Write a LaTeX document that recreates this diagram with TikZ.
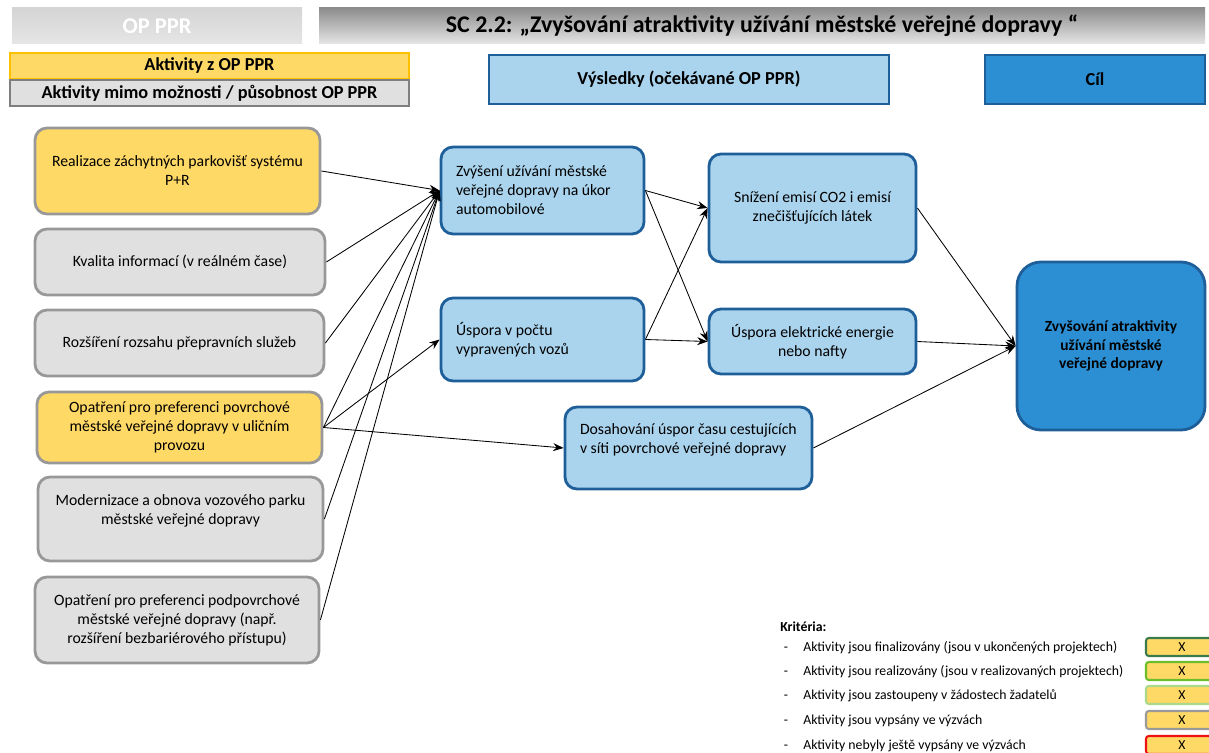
\documentclass[tikz,border=0pt]{standalone}
\usepackage{fontspec}
\setmainfont{Carlito}
\usetikzlibrary{arrows.meta,positioning}
\definecolor{gold}{HTML}{FFD966}
\definecolor{goldline}{HTML}{FFC000}
\definecolor{paleg}{HTML}{E0E0E0}
\definecolor{boxgray}{HTML}{989898}
\definecolor{darkgray0}{HTML}{7F7F7F}
\definecolor{skyfill}{HTML}{AAD4EE}
\definecolor{navyline}{HTML}{1F5F99}
\definecolor{goalfill}{HTML}{2C8FD3}
\definecolor{hdrtop}{HTML}{8C8C8C}
\definecolor{hdrbot}{HTML}{E6E6E6}
\definecolor{kdgreen}{HTML}{3B7A4A}
\definecolor{kgreen}{HTML}{6BBE2A}
\definecolor{klgreen}{HTML}{A9D98A}
\definecolor{kgray}{HTML}{999999}
\definecolor{kred}{HTML}{EE1111}
\tikzset{
  box/.style={draw, rounded corners=.3cm, line width=2pt, align=center, inner sep=2pt, font=\fontsize{11.2}{13.5}\selectfont},
  boxy/.style={box, fill=gold, draw=boxgray},
  boxg/.style={box, fill=paleg, draw=boxgray},
  boxb/.style={box, fill=skyfill, draw=navyline, align=flush left, inner xsep=.375cm},
  boxc/.style={box, fill=skyfill, draw=navyline},
  hdr/.style={inner sep=0pt, top color=hdrtop, bottom color=hdrbot, font=\fontsize{17}{19}\selectfont\bfseries},
  leg/.style={line width=1.6pt, inner sep=0pt, minimum width=9.975cm, minimum height=.65cm, font=\fontsize{13}{15}\selectfont\bfseries},
  colhdr/.style={line width=2pt, draw=navyline, inner sep=0pt, minimum height=1.225cm, font=\fontsize{13}{15}\selectfont\bfseries},
  ar/.style={-{Stealth[length=2.6mm,width=2mm]}, line width=.6pt},
  krit/.style={font=\fontsize{9.8}{11}\selectfont, inner xsep=0pt, text height=1.6ex, text depth=.4ex},
  kbox/.style={krit, fill=gold, line width=1.5pt, rounded corners=2pt, inner sep=0pt, minimum width=1.8cm, minimum height=.45cm},
}
\begin{document}
\begin{tikzpicture}
  \useasboundingbox (0,0) rectangle (30.225,-18.825);
  \node[hdr, top color=hdrbot!80!hdrtop, minimum width=7.25cm, minimum height=.9cm, text=white, font=\fontsize{16}{18}\selectfont\bfseries] (hdrop) at (3.925,-.65) {OP PPR};
  \node[hdr, minimum width=22.15cm, minimum height=.9cm] (hdrsc) at (19.05,-.65) {SC 2.2: „Zvyšování atraktivity užívání městské veřejné dopravy “};
  \node[leg, draw=goldline, fill=gold] (legz) at (5.2375,-1.65) {Aktivity z OP PPR};
  \node[leg, draw=darkgray0, fill=paleg] (legmimo) at (5.2375,-2.325) {Aktivity mimo možnosti / působnost OP PPR};
  \node[colhdr, fill=skyfill, minimum width=10cm] (hdrvys) at (17.225,-1.9875) {Výsledky (očekávané OP PPR)};
  \node[colhdr, fill=goalfill, minimum width=5.5cm] (hdrcil) at (27.375,-1.9875) {Cíl};

  \node[boxy, minimum width=7.125cm, minimum height=2.15cm] (parkr) at (4.4375,-4.275) {Realizace záchytných parkovišť systému\\P+R};
  \node[boxg, minimum width=7.25cm, minimum height=1.65cm] (info) at (4.5,-6.55) {Kvalita informací (v reálném čase)};
  \node[boxg, minimum width=7.225cm, minimum height=1.65cm] (sluzby) at (4.4875,-8.575) {Rozšíření rozsahu přepravních služeb};
  \node[boxy, minimum width=7.125cm, minimum height=1.775cm] (povrch) at (4.4875,-10.6875) {Opatření pro preferenci povrchové\\městské veřejné dopravy v uličním\\provozu};
  \node[boxg, minimum width=7.125cm, minimum height=2.1cm] (vozy) at (4.5125,-12.975) {Modernizace a obnova vozového parku\\městské veřejné dopravy\\\mbox{}};
  \node[boxg, minimum width=7.1cm, minimum height=2.15cm] (podpovrch) at (4.425,-15.5) {Opatření pro preferenci podpovrchové\\městské veřejné dopravy (např.\\rozšíření bezbariérového přístupu)};

  \node[boxb, text width=4.325cm, minimum height=2.175cm] (zvyseni) at (13.5625,-4.7625) {Zvýšení užívání městské\\veřejné dopravy na úkor\\automobilové};
  \node[boxb, text width=4.325cm, minimum height=2.075cm] (uspvoz) at (13.5625,-8.4875) {Úspora v počtu\\vypravených vozů};
  \node[boxb, text width=5.425cm, minimum height=2.05cm] (cas) at (17.2125,-11.2) {Dosahování úspor času cestujících\\v síti povrchové veřejné dopravy\\\mbox{}};
  \node[boxc, minimum width=5.175cm, minimum height=2.7cm] (emise) at (20.3125,-5.2) {Snížení emisí CO2 i emisí\\znečišťujících látek};
  \node[boxc, minimum width=5.175cm, minimum height=1.625cm] (energie) at (20.3125,-8.5375) {Úspora elektrické energie\\nebo nafty};
  \node[box, fill=goalfill, draw=navyline, rounded corners=.6cm, minimum width=4.7cm, minimum height=4.2cm, font=\fontsize{11}{13}\selectfont\bfseries] (cil) at (27.775,-8.65) {Zvyšování atraktivity\\užívání městské\\veřejné dopravy};

  \foreach \s in {parkr,info,sluzby,povrch,vozy,podpovrch}
    \draw[ar] (\s.east) -- (zvyseni.west);
  \draw[ar] (povrch.east) -- (uspvoz.west);
  \draw[ar] (povrch.east) -- (cas.west);
  \foreach \s in {zvyseni,uspvoz}{
    \draw[ar] (\s.east) -- (emise.west);
    \draw[ar] (\s.east) -- (energie.west);
  }
  \foreach \s in {emise,energie,cas}
    \draw[ar] (\s.east) -- (cil.west);

  \node[krit, font=\fontsize{9.8}{11}\selectfont\bfseries, anchor=west] (kriteria) at (19.5,-15.675) {Kritéria:};
  \foreach \i/\y/\col/\txt in {1/-16.175/kdgreen/{Aktivity jsou finalizovány (jsou v ukončených projektech)},
      2/-16.775/kgreen/{Aktivity jsou realizovány (jsou v realizovaných projektech)},
      3/-17.375/klgreen/{Aktivity jsou zastoupeny v žádostech žadatelů},
      4/-18.0/kgray/{Aktivity jsou vypsány ve výzvách},
      5/-18.625/kred/{Aktivity nebyly ještě vypsány ve výzvách}}{
    \node[krit] (kd\i) at (19.65,\y) {-};
    \node[krit, anchor=west] (kt\i) at (20.075,\y) {\txt};
    \node[kbox, draw=\col] (kb\i) at (29.55,\y) {X};
  }
\end{tikzpicture}
\end{document}
